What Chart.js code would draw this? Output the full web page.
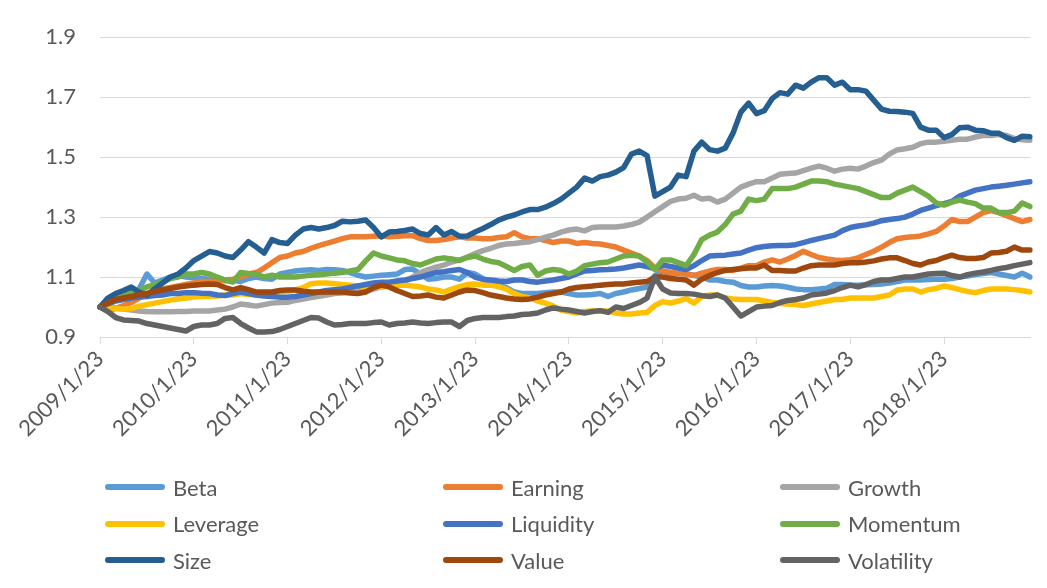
<!DOCTYPE html>
<html>
<head>
<meta charset="utf-8">
<title>Factor returns</title>
<script src="https://cdn.jsdelivr.net/npm/chart.js@4.4.0/dist/chart.umd.min.js"></script>
<style>
  html, body { margin: 0; padding: 0; background: #fff; }
  #wrap { position: relative; width: 1047px; height: 588px; overflow: hidden; }
  #factor_chart { position: absolute; left: 0; top: 0; }
  #factor_legend {
    position: absolute; left: 105px; top: 469px;
    display: grid; grid-template-columns: 338px 337px 260px;
    font-family: Lato, "Open Sans", sans-serif; font-size: 22px; color: #595959;
  }
  .lg-item { display: flex; align-items: center; height: 36.5px; }
  .lg-swatch { width: 60px; height: 6px; border-radius: 3px; margin-right: 8px; }
</style>
</head>
<body>
<div id="wrap">
  <canvas id="factor_chart" width="1047" height="470"></canvas>
  <div id="factor_legend"></div>
</div>
<script>
(function () {
  "use strict";

  // monthly observations, 2009/1/23 .. 2018/12/23
  var startYear = 2009;
  var years = 10;
  var tickLabels = ["2009/1/23", "2010/1/23", "2011/1/23", "2012/1/23", "2013/1/23",
    "2014/1/23", "2015/1/23", "2016/1/23", "2017/1/23", "2018/1/23"];
  var yTicks = [0.9, 1.1, 1.3, 1.5, 1.7, 1.9];

  var seriesNames = ["Beta", "Earning", "Growth", "Leverage", "Liquidity",
    "Momentum", "Size", "Value", "Volatility"];
  var seriesColors = ["#5B9BD5", "#ED7D31", "#A5A5A5", "#FFC000", "#4472C4",
    "#70AD47", "#255E91", "#9E480E", "#636363"];

  var beta = [
    1.00, 1.02, 1.035, 1.04, 1.045, 1.06, 1.11, 1.08, 1.09, 1.10, 1.106, 1.10,
    1.098, 1.095, 1.093, 1.09, 1.088, 1.09, 1.085, 1.095, 1.10, 1.095, 1.093, 1.11,
    1.115, 1.12, 1.123, 1.124, 1.122, 1.125, 1.124, 1.122, 1.115, 1.106, 1.10, 1.103,
    1.106, 1.108, 1.11, 1.125, 1.127, 1.11, 1.093, 1.095, 1.10, 1.10, 1.093, 1.115,
    1.11, 1.095, 1.085, 1.073, 1.065, 1.05, 1.045, 1.045, 1.045, 1.048, 1.05, 1.05,
    1.045, 1.04, 1.04, 1.042, 1.045, 1.035, 1.045, 1.05, 1.057, 1.062, 1.067, 1.105,
    1.12, 1.11, 1.113, 1.11, 1.106, 1.10, 1.09, 1.09, 1.085, 1.083, 1.072, 1.067,
    1.067, 1.07, 1.072, 1.07, 1.066, 1.06, 1.058, 1.058, 1.06, 1.063, 1.075, 1.075,
    1.073, 1.073, 1.074, 1.075, 1.077, 1.08, 1.085, 1.09, 1.09, 1.09, 1.092, 1.093,
    1.093, 1.095, 1.10, 1.103, 1.108, 1.112, 1.115, 1.11, 1.105, 1.10, 1.113, 1.10
  ];
  var earning = [
    1.00, 0.99, 0.995, 1.005, 1.015, 1.03, 1.04, 1.05, 1.06, 1.065, 1.07, 1.075,
    1.08, 1.085, 1.085, 1.088, 1.09, 1.093, 1.10, 1.11, 1.115, 1.13, 1.148, 1.165,
    1.17, 1.18, 1.185, 1.196, 1.205, 1.212, 1.22, 1.228, 1.234, 1.234, 1.234, 1.236,
    1.238, 1.234, 1.236, 1.238, 1.238, 1.228, 1.222, 1.222, 1.225, 1.23, 1.234, 1.23,
    1.23, 1.228, 1.228, 1.232, 1.234, 1.248, 1.234, 1.228, 1.228, 1.222, 1.215, 1.22,
    1.22, 1.212, 1.215, 1.212, 1.21, 1.205, 1.20, 1.19, 1.18, 1.17, 1.155, 1.13,
    1.12, 1.115, 1.112, 1.11, 1.105, 1.113, 1.12, 1.125, 1.125, 1.122, 1.13, 1.138,
    1.138, 1.15, 1.157, 1.15, 1.16, 1.172, 1.186, 1.175, 1.165, 1.16, 1.157, 1.155,
    1.158, 1.164, 1.175, 1.186, 1.20, 1.215, 1.228, 1.232, 1.234, 1.237, 1.244, 1.252,
    1.27, 1.292, 1.285, 1.285, 1.30, 1.315, 1.322, 1.315, 1.305, 1.295, 1.285, 1.292
  ];
  var growth = [
    1.00, 1.003, 0.997, 0.993, 0.99, 0.987, 0.985, 0.984, 0.984, 0.984, 0.985, 0.985,
    0.987, 0.987, 0.987, 0.99, 0.993, 1.00, 1.01, 1.007, 1.003, 1.008, 1.013, 1.015,
    1.016, 1.022, 1.027, 1.032, 1.036, 1.04, 1.045, 1.047, 1.05, 1.05, 1.055, 1.06,
    1.067, 1.072, 1.077, 1.085, 1.10, 1.115, 1.125, 1.133, 1.14, 1.15, 1.157, 1.167,
    1.178, 1.188, 1.196, 1.205, 1.21, 1.212, 1.215, 1.218, 1.225, 1.233, 1.24, 1.25,
    1.257, 1.26, 1.254, 1.265, 1.267, 1.267, 1.267, 1.27, 1.275, 1.283, 1.30, 1.318,
    1.335, 1.352, 1.36, 1.363, 1.373, 1.36, 1.363, 1.35, 1.36, 1.38, 1.40, 1.41,
    1.418, 1.418, 1.43, 1.443, 1.445, 1.447, 1.455, 1.463, 1.47, 1.463, 1.453, 1.46,
    1.463, 1.46, 1.47, 1.482, 1.49, 1.51, 1.524, 1.528, 1.533, 1.545, 1.55, 1.55,
    1.553, 1.556, 1.56, 1.56, 1.567, 1.572, 1.572, 1.575, 1.572, 1.562, 1.558, 1.556
  ];
  var leverage = [
    1.00, 0.997, 0.995, 0.993, 0.995, 1.003, 1.008, 1.013, 1.018, 1.023, 1.027, 1.03,
    1.033, 1.035, 1.035, 1.037, 1.04, 1.04, 1.045, 1.042, 1.04, 1.045, 1.048, 1.05,
    1.052, 1.057, 1.065, 1.078, 1.08, 1.08, 1.078, 1.075, 1.073, 1.07, 1.067, 1.067,
    1.067, 1.07, 1.073, 1.073, 1.07, 1.067, 1.06, 1.057, 1.05, 1.06, 1.068, 1.075,
    1.077, 1.073, 1.073, 1.068, 1.06, 1.045, 1.035, 1.03, 1.02, 1.013, 1.003, 0.99,
    0.985, 0.98, 0.985, 0.987, 0.987, 0.987, 0.98, 0.977, 0.977, 0.98, 0.982, 1.005,
    1.018, 1.013, 1.02, 1.028, 1.013, 1.035, 1.04, 1.04, 1.03, 1.027, 1.025, 1.025,
    1.025, 1.02, 1.015, 1.012, 1.01, 1.008, 1.005, 1.01, 1.015, 1.02, 1.025, 1.025,
    1.03, 1.03, 1.03, 1.03, 1.035, 1.04, 1.057, 1.06, 1.06, 1.05, 1.058, 1.062,
    1.07, 1.065, 1.058, 1.052, 1.048, 1.055, 1.06, 1.06, 1.06, 1.058, 1.055, 1.05
  ];
  var liquidity = [
    1.00, 1.01, 1.02, 1.025, 1.03, 1.033, 1.035, 1.038, 1.04, 1.045, 1.045, 1.048,
    1.048, 1.046, 1.045, 1.04, 1.038, 1.045, 1.05, 1.045, 1.04, 1.037, 1.035, 1.033,
    1.033, 1.035, 1.04, 1.045, 1.05, 1.055, 1.058, 1.06, 1.065, 1.07, 1.075, 1.08,
    1.083, 1.083, 1.087, 1.09, 1.095, 1.10, 1.108, 1.115, 1.118, 1.122, 1.125, 1.115,
    1.10, 1.092, 1.09, 1.087, 1.085, 1.09, 1.09, 1.085, 1.083, 1.087, 1.09, 1.095,
    1.10, 1.11, 1.12, 1.122, 1.124, 1.125, 1.127, 1.13, 1.135, 1.14, 1.135, 1.128,
    1.14, 1.135, 1.13, 1.125, 1.138, 1.155, 1.17, 1.172, 1.173, 1.177, 1.18, 1.19,
    1.198, 1.202, 1.204, 1.205, 1.205, 1.208, 1.215, 1.222, 1.228, 1.234, 1.24, 1.255,
    1.265, 1.27, 1.274, 1.28, 1.288, 1.292, 1.295, 1.30, 1.31, 1.322, 1.33, 1.338,
    1.345, 1.352, 1.37, 1.38, 1.39, 1.395, 1.40, 1.403, 1.406, 1.41, 1.414, 1.418
  ];
  var momentum = [
    1.00, 1.015, 1.03, 1.04, 1.05, 1.055, 1.067, 1.075, 1.083, 1.095, 1.10, 1.11,
    1.11, 1.115, 1.11, 1.10, 1.09, 1.083, 1.115, 1.112, 1.11, 1.10, 1.106, 1.10,
    1.10, 1.10, 1.103, 1.106, 1.108, 1.11, 1.113, 1.115, 1.12, 1.125, 1.154, 1.18,
    1.17, 1.164, 1.157, 1.154, 1.145, 1.14, 1.15, 1.16, 1.164, 1.16, 1.155, 1.165,
    1.17, 1.16, 1.152, 1.148, 1.135, 1.122, 1.135, 1.14, 1.106, 1.12, 1.125, 1.122,
    1.11, 1.12, 1.138, 1.143, 1.148, 1.15, 1.16, 1.17, 1.173, 1.17, 1.15, 1.125,
    1.157, 1.157, 1.148, 1.138, 1.175, 1.225, 1.24, 1.25, 1.275, 1.31, 1.32, 1.36,
    1.355, 1.36, 1.395, 1.395, 1.395, 1.40, 1.41, 1.42, 1.42, 1.418, 1.41, 1.405,
    1.40, 1.395, 1.385, 1.375, 1.365, 1.365, 1.38, 1.39, 1.40, 1.385, 1.37, 1.347,
    1.34, 1.35, 1.357, 1.35, 1.345, 1.33, 1.33, 1.315, 1.315, 1.32, 1.347, 1.335
  ];
  var size = [
    1.00, 1.03, 1.045, 1.055, 1.067, 1.05, 1.04, 1.06, 1.08, 1.10, 1.11, 1.13,
    1.155, 1.17, 1.185, 1.18, 1.17, 1.165, 1.19, 1.218, 1.20, 1.18, 1.225, 1.215,
    1.212, 1.24, 1.26, 1.265, 1.26, 1.265, 1.272, 1.286, 1.284, 1.286, 1.29, 1.265,
    1.234, 1.25, 1.252, 1.255, 1.26, 1.245, 1.24, 1.265, 1.24, 1.252, 1.236, 1.237,
    1.25, 1.262, 1.275, 1.29, 1.30, 1.307, 1.317, 1.325, 1.325, 1.333, 1.345, 1.36,
    1.38, 1.40, 1.43, 1.42, 1.435, 1.44, 1.45, 1.465, 1.51, 1.52, 1.505, 1.37,
    1.385, 1.40, 1.44, 1.435, 1.52, 1.55, 1.525, 1.52, 1.53, 1.58, 1.65, 1.68,
    1.645, 1.655, 1.695, 1.715, 1.71, 1.74, 1.73, 1.75, 1.765, 1.765, 1.74, 1.75,
    1.725, 1.725, 1.72, 1.69, 1.66, 1.653, 1.652, 1.65, 1.646, 1.60, 1.59, 1.59,
    1.565, 1.575, 1.598, 1.60, 1.59, 1.588, 1.58, 1.58, 1.565, 1.556, 1.57, 1.568
  ];
  var value = [
    1.00, 1.013, 1.025, 1.03, 1.035, 1.04, 1.045, 1.052, 1.057, 1.062, 1.067, 1.07,
    1.073, 1.075, 1.077, 1.075, 1.065, 1.057, 1.065, 1.058, 1.05, 1.05, 1.05, 1.055,
    1.057, 1.057, 1.053, 1.05, 1.05, 1.05, 1.05, 1.05, 1.047, 1.045, 1.05, 1.065,
    1.073, 1.067, 1.055, 1.045, 1.035, 1.037, 1.04, 1.033, 1.03, 1.04, 1.05, 1.057,
    1.055, 1.048, 1.04, 1.035, 1.03, 1.027, 1.025, 1.027, 1.033, 1.04, 1.045, 1.05,
    1.06, 1.065, 1.068, 1.07, 1.073, 1.075, 1.077, 1.077, 1.08, 1.083, 1.085, 1.10,
    1.10, 1.095, 1.093, 1.09, 1.073, 1.093, 1.105, 1.115, 1.122, 1.125, 1.128, 1.13,
    1.13, 1.14, 1.122, 1.122, 1.12, 1.12, 1.13, 1.138, 1.14, 1.14, 1.14, 1.145,
    1.148, 1.148, 1.15, 1.154, 1.16, 1.164, 1.164, 1.155, 1.145, 1.14, 1.15, 1.155,
    1.165, 1.173, 1.165, 1.162, 1.162, 1.165, 1.18, 1.182, 1.186, 1.20, 1.19, 1.19
  ];
  var volatility = [
    1.00, 0.985, 0.965, 0.957, 0.955, 0.953, 0.945, 0.94, 0.935, 0.93, 0.925, 0.92,
    0.935, 0.94, 0.94, 0.945, 0.962, 0.965, 0.945, 0.93, 0.917, 0.917, 0.918, 0.925,
    0.935, 0.945, 0.955, 0.965, 0.963, 0.95, 0.94, 0.942, 0.945, 0.945, 0.945, 0.948,
    0.95, 0.94, 0.945, 0.947, 0.95, 0.947, 0.945, 0.948, 0.95, 0.95, 0.935, 0.955,
    0.962, 0.965, 0.965, 0.965, 0.968, 0.97, 0.975, 0.977, 0.98, 0.99, 0.997, 0.993,
    0.99, 0.985, 0.98, 0.985, 0.988, 0.982, 1.00, 0.995, 1.005, 1.015, 1.03, 1.10,
    1.06, 1.047, 1.045, 1.045, 1.043, 1.038, 1.035, 1.04, 1.03, 1.00, 0.97, 0.985,
    1.00, 1.003, 1.005, 1.015, 1.022, 1.025, 1.03, 1.04, 1.043, 1.047, 1.055, 1.065,
    1.073, 1.067, 1.075, 1.085, 1.09, 1.09, 1.095, 1.10, 1.10, 1.105, 1.11, 1.112,
    1.113, 1.105, 1.10, 1.108, 1.113, 1.117, 1.122, 1.128, 1.132, 1.138, 1.143, 1.148
  ];

  var seriesValues = [beta, earning, growth, leverage, liquidity, momentum, size, value, volatility];

  var months = [];
  for (var y = 0; y < years; y++) {
    for (var m = 1; m <= 12; m++) {
      months.push((startYear + y) + "/" + m + "/23");
    }
  }

  var fontFamily = "Lato, 'Open Sans', sans-serif";
  var textColor = "#595959";
  var gridColor = "#D9D9D9";

  var datasets = seriesNames.map(function (name, i) {
    return {
      label: name,
      data: seriesValues[i],
      borderColor: seriesColors[i],
      backgroundColor: seriesColors[i],
      borderWidth: 5.5,
      pointRadius: 0,
      tension: 0,
      fill: false,
      borderJoinStyle: "round",
      borderCapStyle: "round",
      order: seriesNames.length - i   // later series on top, like the original
    };
  });

  var chart = new Chart(document.getElementById("factor_chart"), {
    type: "line",
    data: { labels: months, datasets: datasets },
    options: {
      responsive: false,
      animation: false,
      layout: { padding: { top: 26, right: 17, left: 0, bottom: 0 } },
      plugins: { legend: { display: false }, tooltip: { enabled: false } },
      scales: {
        x: {
          offset: false,
          afterBuildTicks: function (scale) {
            scale.ticks = scale.ticks.filter(function (t) {
              return tickLabels.indexOf(months[t.value]) !== -1;
            });
          },
          afterFit: function (scale) { scale.height = 133; },
          grid: { display: true, drawOnChartArea: false, drawTicks: true, tickLength: 7, color: gridColor },
          border: { display: true, color: gridColor },
          ticks: {
            autoSkip: false,
            minRotation: 45,
            maxRotation: 45,
            padding: 2,
            color: textColor,
            font: { family: fontFamily, size: 22 }
          }
        },
        y: {
          min: yTicks[0],
          max: yTicks[yTicks.length - 1],
          afterBuildTicks: function (scale) {
            scale.ticks = yTicks.map(function (v) { return { value: v }; });
          },
          afterFit: function (scale) { scale.width = 100; },
          grid: { color: gridColor, drawTicks: false },
          border: { display: false },
          ticks: {
            padding: 24,
            color: textColor,
            font: { family: fontFamily, size: 22 },
            callback: function (v) { return Number(v).toFixed(1); }
          }
        }
      }
    }
  });

  var legendEl = document.getElementById("factor_legend");
  chart.data.datasets.forEach(function (ds) {
    var item = document.createElement("div");
    item.className = "lg-item";
    var sw = document.createElement("span");
    sw.className = "lg-swatch";
    sw.style.background = ds.borderColor;
    var txt = document.createElement("span");
    txt.textContent = ds.label;
    item.appendChild(sw);
    item.appendChild(txt);
    legendEl.appendChild(item);
  });
})();
</script>
</body>
</html>
